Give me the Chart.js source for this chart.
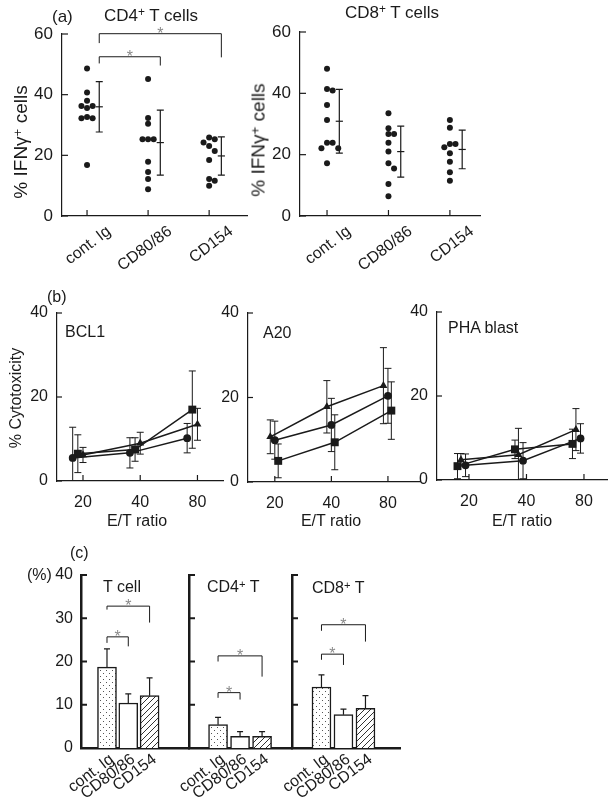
<!DOCTYPE html>
<html>
<head>
<meta charset="utf-8">
<script src="https://cdn.jsdelivr.net/npm/chart.js@4.4.1/dist/chart.umd.min.js"></script>
<style>
  body { margin: 0; background: #fff; width: 616px; height: 811px; overflow: hidden; position: relative;
         font-family: "Liberation Sans", Arial, Helvetica, sans-serif; color: #1a1a1a; }
  .layer { position: absolute; left: 0; top: 0; width: 616px; height: 811px; pointer-events: none; }
  .t { position: absolute; font-size: 16px; line-height: 1; white-space: nowrap; }
  .t sup { font-size: 0.7em; vertical-align: baseline; position: relative; top: -0.4em; }
</style>
</head>
<body>
<script>
// ---- data: (a) % IFN-gamma+ cells per animal ----
const groups = ['cont. Ig', 'CD80/86', 'CD154'];

const cd4Ctrl = [48.6, 40.7, 38.0, 36.3, 36.3, 35.6, 32.6, 32.2, 32.2, 16.8];
const cd4B7 = [45.2, 32.3, 30.4, 25.3, 25.3, 25.3, 17.9, 14.5, 12.2, 8.8];
const cd4Cd154 = [25.9, 25.3, 24.2, 23.1, 21.4, 18.5, 12.2, 11.6, 10.0];
const cd4Mean = [36.0, 24.2, 19.8];
const cd4Sd = [8.3, 10.7, 6.3];

const cd8Ctrl = [48.0, 41.4, 40.9, 36.2, 31.3, 23.9, 23.9, 22.1, 22.1, 17.2];
const cd8B7 = [33.5, 28.6, 26.7, 26.7, 23.9, 21.0, 17.2, 15.5, 10.4, 6.4];
const cd8Cd154 = [31.3, 28.8, 23.5, 23.5, 22.4, 20.5, 17.7, 14.3, 11.5];
const cd8Mean = [30.9, 21.0, 21.7];
const cd8Sd = [10.4, 8.3, 6.3];

const cd4Sig = [
  { from: 0, to: 1, y: 52.5, left: 50.3, right: 49.6 },
  { from: 0, to: 2, y: 60.1, left: 57.0, right: 52.3 }
];

// ---- data: (b) % cytotoxicity vs E/T ratio ----
const etRatios = [20, 40, 80];
const bcl1Circle = [5.5, 6.7, 10.2],   bcl1CircleSd = [7.3, 3.6, 3.5];
const bcl1Triangle = [6.2, 9.0, 13.5], bcl1TriangleSd = [1.8, 2.6, 3.8];
const bcl1Square = [6.5, 7.5, 17.0],   bcl1SquareSd = [4.5, 2.8, 9.2];

const a20Circle = [9.9, 13.5, 20.4],   a20CircleSd = [4.5, 6.3, 6.5];
const a20Triangle = [10.7, 17.8, 22.8], a20TriangleSd = [4.0, 6.2, 9.0];
const a20Square = [5.0, 9.4, 16.9],    a20SquareSd = [4.0, 6.5, 6.8];

const phaCircle = [3.5, 4.6, 9.9],     phaCircleSd = [2.7, 4.3, 3.5];
const phaTriangle = [4.8, 6.0, 12.0],  phaTriangleSd = [1.5, 6.3, 5.0];
const phaSquare = [3.3, 7.3, 8.6],     phaSquareSd = [3.0, 2.2, 3.5];

// ---- data: (c) % positive cells, mean + SD ----
const tcellPct = [18.7, 10.4, 12.1], tcellSd = [4.2, 2.1, 4.1];
const cd4Pct = [5.4, 2.7, 2.7],      cd4PctSd = [1.7, 1.1, 1.1];
const cd8Pct = [14.1, 7.7, 9.2],     cd8PctSd = [2.8, 1.3, 2.9];

const tcellSig = [
  { from: 0, to: 1, y: 25.7, left: 24.3, right: 23.5 },
  { from: 0, to: 2, y: 32.8, left: 32.0, right: 29.0 }
];
const cd4PctSig = [
  { from: 0, to: 1, y: 12.8, left: 11.6, right: 11.2 },
  { from: 0, to: 2, y: 21.3, left: 20.0, right: 16.5 }
];
const cd8PctSig = [
  { from: 0, to: 1, y: 21.7, left: 20.4, right: 19.2 },
  { from: 0, to: 2, y: 28.5, left: 27.1, right: 24.6 }
];

// ---- setup ----
const INK = '#1a1a1a';
const FONT = '"Liberation Sans", Arial, Helvetica, sans-serif';
Chart.defaults.font.family = FONT;
Chart.defaults.font.size = 16;
Chart.defaults.color = INK;

const W = 616, H = 811, Y_W = 50;
const MEAN_SHIFT = 0.2;

// error bars drawn under the markers
const errorBars = {
  id: 'errorBars',
  beforeDatasetsDraw(chart) {
    const ctx = chart.ctx, ys = chart.scales.y;
    chart.data.datasets.forEach((ds, di) => {
      if (!ds.errors) return;
      const meta = chart.getDatasetMeta(di);
      ctx.save();
      ctx.strokeStyle = INK;
      ctx.lineWidth = ds.errorWidth || 1;
      meta.data.forEach((el, i) => {
        const v = meta.controller.getParsed(i).y;
        const e = ds.errors[i];
        const cap = ds.errorCap / 2;
        const top = ys.getPixelForValue(v + e);
        const low = Math.max(v - e, 0);
        const bot = ds.errorUpOnly ? el.y : ys.getPixelForValue(low);
        ctx.beginPath();
        ctx.moveTo(el.x, top); ctx.lineTo(el.x, bot);
        ctx.moveTo(el.x - cap, top); ctx.lineTo(el.x + cap, top);
        if (!ds.errorUpOnly && low > 0) { ctx.moveTo(el.x - cap, bot); ctx.lineTo(el.x + cap, bot); }
        ctx.stroke();
      });
      ctx.restore();
    });
  }
};

// tick marks pointing into the plot
const innerTicks = {
  id: 'innerTicks',
  afterDatasetsDraw(chart, args, opts) {
    const ctx = chart.ctx, a = chart.chartArea;
    ctx.save();
    ctx.strokeStyle = INK;
    ctx.lineWidth = opts.width || 1;
    if (opts.x) chart.scales.x.ticks.forEach(t => {
      const p = chart.scales.x.getPixelForValue(t.value);
      ctx.beginPath(); ctx.moveTo(p, a.bottom); ctx.lineTo(p, a.bottom - opts.x); ctx.stroke();
    });
    if (opts.y) chart.scales.y.ticks.forEach(t => {
      const p = chart.scales.y.getPixelForValue(t.value);
      ctx.beginPath(); ctx.moveTo(a.left, p); ctx.lineTo(a.left + opts.y, p); ctx.stroke();
    });
    ctx.restore();
  }
};

// significance brackets with a grey star
const brackets = {
  id: 'brackets',
  afterDatasetsDraw(chart, args, opts) {
    if (!opts.items) return;
    const ctx = chart.ctx, xs = chart.scales.x, ys = chart.scales.y;
    const shift = opts.shift || 0;
    ctx.save();
    opts.items.forEach(b => {
      const x1 = xs.getPixelForValue(b.from + shift);
      const x2 = xs.getPixelForValue(b.to + shift);
      const y = ys.getPixelForValue(b.y);
      ctx.strokeStyle = INK; ctx.lineWidth = 1;
      ctx.beginPath();
      ctx.moveTo(x1, ys.getPixelForValue(b.left)); ctx.lineTo(x1, y);
      ctx.lineTo(x2, y); ctx.lineTo(x2, ys.getPixelForValue(b.right));
      ctx.stroke();
      ctx.fillStyle = '#8a8a8a';
      ctx.font = '16px ' + FONT;
      ctx.textAlign = 'center';
      ctx.textBaseline = 'alphabetic';
      ctx.fillText('*', (x1 + x2) / 2, y + 5);
    });
    ctx.restore();
  }
};

function makeChart(type, box, xh, scales, datasets, plugins) {
  const div = document.createElement('div');
  div.className = 'layer';
  const canvas = document.createElement('canvas');
  div.appendChild(canvas);
  document.body.appendChild(div);
  return new Chart(canvas, {
    type,
    data: { datasets },
    options: {
      responsive: true,
      maintainAspectRatio: false,
      animation: false,
      events: [],
      layout: { padding: { left: box.l - Y_W, right: W - box.r, top: box.t, bottom: H - box.b - xh } },
      plugins: Object.assign({ legend: { display: false }, tooltip: { enabled: false } }, plugins),
      scales
    },
    plugins: [errorBars, innerTicks, brackets]
  });
}

function yAxis(max, step, o = {}) {
  return {
    type: 'linear', min: 0, max, bounds: 'data', position: 'left',
    afterFit: s => { s.width = Y_W; },
    ticks: { stepSize: step, padding: o.pad || 9, display: o.labels !== false,
             font: { size: o.size || 16 } },
    grid: { display: false, drawTicks: false },
    border: { display: true, color: INK, width: o.lw || 1.2 }
  };
}

function groupAxis(min, max, xh, o = {}) {
  return {
    type: 'linear', min, max, bounds: 'data', position: 'bottom', offset: false,
    afterFit: s => { s.height = xh; },
    afterBuildTicks: s => { s.ticks = groups.map((g, i) => ({ value: i })); },
    ticks: { callback: v => groups[v], minRotation: 37, maxRotation: 37, autoSkip: false,
             padding: o.pad || 6, labelOffset: o.shift || 0 },
    grid: { display: false, drawTicks: false, offset: false },
    border: { display: true, color: INK, width: o.lw || 1.2 }
  };
}

function etAxis(min, max, xh) {
  return {
    type: 'logarithmic', min, max, bounds: 'data', position: 'bottom',
    afterFit: s => { s.height = xh; },
    afterBuildTicks: s => { s.ticks = etRatios.map(v => ({ value: v })); },
    ticks: { callback: v => String(v), padding: 12, autoSkip: false, maxRotation: 0 },
    grid: { display: false, drawTicks: false },
    border: { display: true, color: INK, width: 1.2 }
  };
}

// simple beeswarm so equal values sit side by side
function swarm(values, pxX, pxY, d) {
  const off = values.map(() => 0);
  const placed = [];
  values.map((v, i) => i).sort((a, b) => values[b] - values[a]).forEach(i => {
    const v = values[i];
    for (let k = 0; k < 12; k++) {
      const cand = k === 0 ? 0 : (k % 2 ? 1 : -1) * Math.ceil(k / 2) * d / pxX;
      const ok = placed.every(p => Math.hypot((p.o - cand) * pxX, (p.v - v) * pxY) >= d - 0.01);
      if (ok) { off[i] = cand; placed.push({ o: cand, v }); break; }
    }
  });
  return off;
}

function stripChart(box, xMin, xMax, sets, means, sds, sig) {
  const pxX = (box.r - box.l) / (xMax - xMin);
  const pxY = (box.b - box.t) / 60;
  const dots = [];
  sets.forEach((vals, g) => {
    const off = swarm(vals, pxX, pxY, 5.6);
    vals.forEach((v, i) => dots.push({ x: g + off[i], y: v }));
  });
  const datasets = [
    { data: dots, pointRadius: 3, pointBackgroundColor: INK, pointBorderWidth: 0 },
    { data: means.map((m, g) => ({ x: g + MEAN_SHIFT, y: m })), pointStyle: 'line', pointRadius: 3.6,
      pointBorderColor: INK, pointBorderWidth: 1.2, errors: sds, errorCap: 7, errorWidth: 1.2 }
  ];
  const plugins = { innerTicks: { x: 6, y: 6, width: 1.2 } };
  if (sig) plugins.brackets = { items: sig, shift: MEAN_SHIFT };
  makeChart('scatter', box, 66,
    { x: groupAxis(xMin, xMax, 66, { shift: 22, pad: 6 }), y: yAxis(60, 20, { pad: 9, size: 17 }) },
    datasets, plugins);
}

stripChart({ l: 62, r: 247, t: 34, b: 216 }, -0.41, 2.62,
  [cd4Ctrl, cd4B7, cd4Cd154], cd4Mean, cd4Sd, cd4Sig);
stripChart({ l: 300, r: 480, t: 32, b: 216 }, -0.44, 2.49,
  [cd8Ctrl, cd8B7, cd8Cd154], cd8Mean, cd8Sd, null);

// (b) cytotoxicity panels; dodge is a horizontal shift in doublings of E/T
function cytoChart(box, xMin, xMax, series, dodge) {
  const styles = [
    { pointStyle: 'circle', pointRadius: 3.9 },
    { pointStyle: 'triangle', pointRadius: 4.6 },
    { pointStyle: 'rect', pointRadius: 5.6 }
  ];
  const datasets = series.map((s, k) => Object.assign({
    data: etRatios.map((e, i) => ({ x: e * Math.pow(2, dodge[k]), y: s.values[i] })),
    borderColor: INK, borderWidth: 1.5, pointBackgroundColor: INK, pointBorderColor: INK,
    pointBorderWidth: 0, fill: false, tension: 0,
    errors: s.sd, errorCap: 7, errorWidth: 1
  }, styles[k]));
  makeChart('line', box, 50,
    { x: etAxis(xMin, xMax, 50), y: yAxis(40, 20, { pad: 9 }) },
    datasets, { innerTicks: { x: 6, y: 5, width: 1.2 } });
}

cytoChart({ l: 57, r: 223, t: 313, b: 481 }, 14.6, 109,
  [{ values: bcl1Circle, sd: bcl1CircleSd }, { values: bcl1Triangle, sd: bcl1TriangleSd }, { values: bcl1Square, sd: bcl1SquareSd }],
  [-0.18, 0, -0.09]);
cytoChart({ l: 248, r: 420, t: 313, b: 482 }, 14.4, 118.5,
  [{ values: a20Circle, sd: a20CircleSd }, { values: a20Triangle, sd: a20TriangleSd }, { values: a20Square, sd: a20SquareSd }],
  [0, -0.08, 0.06]);
cytoChart({ l: 437, r: 607, t: 312, b: 480 }, 13.6, 105.6,
  [{ values: phaCircle, sd: phaCircleSd }, { values: phaTriangle, sd: phaTriangleSd }, { values: phaSquare, sd: phaSquareSd }],
  [-0.06, -0.14, -0.2]);

// (c) bar fills
function makePattern(kind) {
  const c = document.createElement('canvas');
  c.width = 6; c.height = 6;
  const g = c.getContext('2d');
  g.fillStyle = '#fff'; g.fillRect(0, 0, 6, 6);
  g.fillStyle = '#555'; g.strokeStyle = '#333'; g.lineWidth = 1;
  if (kind === 'dots') {
    g.fillRect(1, 1, 1, 1); g.fillRect(4, 4, 1, 1);
  } else {
    g.beginPath();
    g.moveTo(-1, 7); g.lineTo(7, -1);
    g.moveTo(-1, 1); g.lineTo(1, -1);
    g.moveTo(5, 7); g.lineTo(7, 5);
    g.stroke();
  }
  return g.createPattern(c, 'repeat');
}
const fills = [makePattern('dots'), '#fff', makePattern('hatch')];

function barChart(box, xMin, xMax, values, sd, sig, showLabels) {
  const datasets = [{
    data: values.map((v, i) => ({ x: i, y: v })),
    backgroundColor: fills, borderColor: INK, borderWidth: 1.5, barThickness: 19,
    errors: sd, errorUpOnly: true, errorCap: 6, errorWidth: 1.2
  }];
  makeChart('bar', box, 60,
    { x: groupAxis(xMin, xMax, 60, { shift: 5, pad: 2, lw: 2.5 }), y: yAxis(40, 10, { pad: 8, lw: 2.5, labels: showLabels }) },
    datasets, { innerTicks: { y: 6, width: 2 }, brackets: { items: sig } });
}

barChart({ l: 81, r: 189, t: 575, b: 748 }, -1.22, 3.85, tcellPct, tcellSd, tcellSig, true);
barChart({ l: 189, r: 292, t: 575, b: 748 }, -1.32, 3.36, cd4Pct, cd4PctSd, cd4PctSig, false);
barChart({ l: 292, r: 400, t: 575, b: 748 }, -1.34, 3.57, cd8Pct, cd8PctSd, cd8PctSig, false);

// ---- free text ----
function text(html, x, y, o = {}) {
  const d = document.createElement('div');
  d.className = 't';
  d.innerHTML = html;
  d.style.left = x + 'px';
  d.style.top = y + 'px';
  if (o.size) d.style.fontSize = o.size + 'px';
  d.style.transform = 'translate(' + (o.left ? '0' : '-50%') + ', -50%)' + (o.rot ? ' rotate(-90deg)' : '');
  document.body.appendChild(d);
}

text('(a)', 52, 16, { left: true, size: 17 });
text('CD4<sup>+</sup> T cells', 151, 15, { size: 17 });
text('CD8<sup>+</sup> T cells', 392, 12, { size: 17 });
text('% IFN&gamma;<sup>+</sup> cells', 20, 142, { rot: true, size: 19 });
text('% IFN&gamma;<sup>+</sup> cells', 258, 140, { rot: true, size: 19 });

text('(b)', 47, 297, { left: true });
text('% Cytotoxicity', 16, 398, { rot: true });
text('BCL1', 65, 332, { left: true });
text('A20', 263, 333, { left: true });
text('PHA blast', 448, 328, { left: true });
text('E/T ratio', 137, 521);
text('E/T ratio', 331, 521);
text('E/T ratio', 522, 521);

text('(c)', 70, 553, { left: true });
text('(%)', 27, 575, { left: true });
text('T cell', 103, 587, { left: true });
text('CD4<sup>+</sup> T', 207, 587, { left: true });
text('CD8<sup>+</sup> T', 312, 588, { left: true });
</script>
</body>
</html>
